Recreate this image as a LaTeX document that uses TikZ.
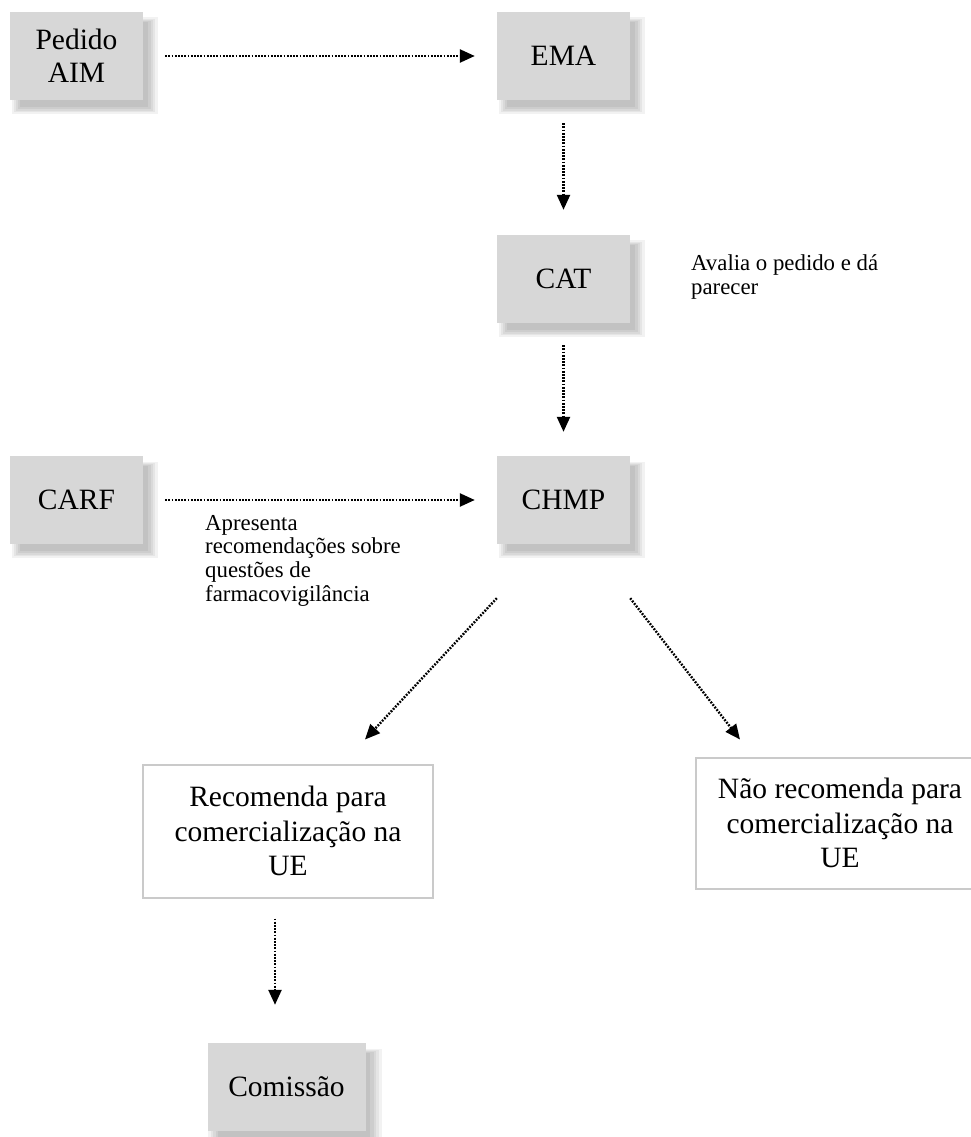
\documentclass[tikz,border=0pt]{standalone}
\usepackage{fontspec}
\setmainfont{Liberation Serif}
\usetikzlibrary{arrows.meta,shadows}
\definecolor{boxgray}{HTML}{D7D7D7}
\definecolor{edgegray}{HTML}{CACACA}
\begin{document}
\begin{tikzpicture}[x=1pt,y=-1pt,
  softshadow/.style={
    general shadow={shadow xshift=8pt,shadow yshift=-9pt,shadow scale=1.10,fill=black,opacity=.05},
    general shadow={shadow xshift=8pt,shadow yshift=-9pt,shadow scale=1.06,fill=black,opacity=.05},
    general shadow={shadow xshift=8pt,shadow yshift=-9pt,shadow scale=1.03,fill=black,opacity=.05},
    general shadow={shadow xshift=8pt,shadow yshift=-9pt,shadow scale=1.00,fill=black,opacity=.05},
    general shadow={shadow xshift=8pt,shadow yshift=-9pt,shadow scale=0.96,fill=black,opacity=.05}},
  graybox/.style={softshadow,fill=boxgray,draw=none,inner sep=0pt,align=center,
    minimum width=133pt,minimum height=88pt,
    font=\fontsize{29.5}{33}\selectfont},
  whitebox/.style={fill=white,draw=edgegray,line width=2pt,inner sep=0pt,align=center,
    font=\fontsize{29.5}{34.5}\selectfont},
  note/.style={inner sep=0pt,align=left,anchor=north west,font=\fontsize{22.8}{23.7}\selectfont},
  arr/.style={line width=2.4pt,dash pattern=on 1.8pt off 1.4pt,
    -{Triangle[length=15pt,width=13pt]}}
]
\useasboundingbox (0,0) rectangle (970,1137);
\fill[white] (0,0) rectangle (970,1137);

\node[graybox] (ped) at (76.5,56) {Pedido\\AIM};
\node[graybox] (ema) at (563.5,56) {EMA};
\node[graybox] (cat) at (563.5,279) {CAT};
\node[graybox] (chmp) at (563.5,500) {CHMP};
\node[graybox] (carf) at (76.5,500) {CARF};
\node[whitebox,minimum width=290pt,minimum height=133pt] (reco) at (288,831) {Recomenda para\\comercialização na\\UE};
\node[whitebox,minimum width=288pt,minimum height=131pt] (nao) at (840,823) {Não recomenda para\\comercialização na\\UE};
\node[graybox,minimum width=158pt,minimum height=88pt] (com) at (286.5,1087) {Comissão};

\node[note] (avalia) at (691,254.5) {Avalia o pedido e dá\\parecer};
\node[note] (apres) at (205,515) {Apresenta\\recomendações sobre\\questões de\\farmacovigilância};

\draw[arr] ([xshift=22pt]ped.east) -- ([xshift=-22pt]ema.west);
\draw[arr] ([yshift=-23pt]ema.south) -- ([yshift=25pt]cat.north);
\draw[arr] ([yshift=-22pt]cat.south) -- ([yshift=24pt]chmp.north);
\draw[arr] ([xshift=22pt]carf.east) -- ([xshift=-22pt]chmp.west);
\draw[arr] ([yshift=-54pt]chmp.south west) -- ([xshift=77pt,yshift=24pt]reco.north);
\draw[arr] ([yshift=-54pt]chmp.south east) -- ([xshift=-100pt,yshift=17pt]nao.north);
\draw[arr] ([xshift=-13pt,yshift=-20pt]reco.south) -- ([xshift=-11.5pt,yshift=38pt]com.north);
\end{tikzpicture}
\end{document}
